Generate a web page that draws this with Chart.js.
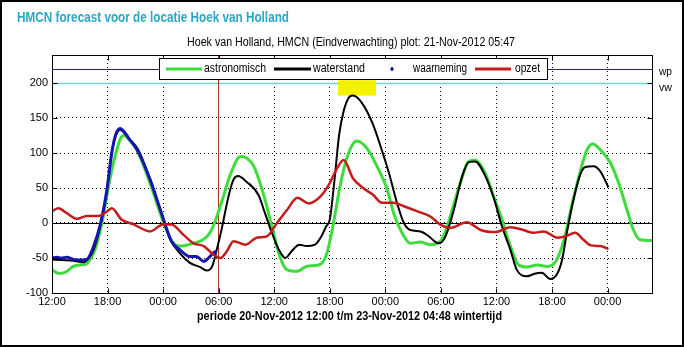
<!DOCTYPE html>
<html>
<head>
<meta charset="utf-8">
<title>HMCN forecast Hoek van Holland</title>
<script src="https://cdn.jsdelivr.net/npm/chart.js@4.4.0/dist/chart.umd.min.js"></script>
<style>
    html, body { margin: 0; padding: 0; background: #fff; }
    #wrap { width: 680px; height: 343px; border: 2px solid #000; }
    canvas { display: block; }
</style>
</head>
<body>
<div id="wrap"><canvas id="hmcnChart" width="680" height="343"></canvas></div>
<script>
// uren sinds 20-Nov-2012 12:00, waarden in cm
const astroHours = [0, 0.7, 1.5, 2.3, 3.0, 3.75, 4.2, 4.65, 5.0, 5.4, 6.1, 6.8, 7.5, 7.8, 8.4, 9.15, 10.2, 11.3, 12.2, 13.1, 13.8, 15.3, 16.3, 16.9, 17.4, 18.3, 19.2, 20.1, 20.5, 21.0, 21.8, 22.8, 23.75, 24.6, 25.4, 26.5, 27.5, 28.8, 29.3, 29.7, 30.4, 31.1, 31.9, 32.9, 34.0, 35.1, 36.2, 36.9, 37.8, 38.7, 39.8, 40.9, 41.8, 42.5, 43.0, 44.1, 45.0, 45.7, 46.8, 47.7, 48.6, 49.5, 50.4, 51.3, 52.4, 53.5, 54.4, 55.3, 56.2, 57.1, 57.8, 58.4, 59.2, 60.3, 61.2, 62.1, 62.8, 63.5, 64.8];
const astroValues = [-67, -72, -70, -62, -60, -58, -50, -38, -22, 0, 52, 95, 123, 125, 118, 105, 71, 29, -5, -29, -33, -29, -24, -17, -5, 29, 67, 93, 95, 93, 81, 43, -5, -48, -67, -69, -62, -60, -55, -43, 0, 52, 95, 117, 107, 81, 48, 14, -14, -29, -27, -31, -28, -12, 9, 57, 88, 90, 71, 38, 5, -33, -60, -63, -60, -62, -55, -24, 29, 76, 105, 113, 105, 86, 57, 19, -10, -24, -25];

const waterHours = [0, 1.0, 2.3, 3.4, 4.0, 4.5, 5.2, 5.9, 6.45, 6.9, 7.35, 8.4, 9.3, 10.6, 11.7, 12.8, 13.8, 14.9, 16.0, 16.7, 17.3, 17.8, 18.3, 19.06, 19.6, 20.1, 21.0, 22.3, 23.0, 23.75, 24.5, 25.2, 25.9, 26.7, 27.5, 28.4, 29.1, 29.6, 30.0, 30.5, 31.0, 31.5, 32.0, 32.5, 33.5, 34.6, 35.5, 36.4, 37.25, 38.0, 38.7, 39.8, 40.7, 41.4, 41.8, 42.5, 43.4, 44.3, 45.0, 45.7, 46.8, 47.7, 48.6, 49.5, 50.2, 51.3, 52.2, 52.9, 53.8, 54.5, 55.1, 55.6, 56.4, 57.1, 57.6, 58.5, 59.2, 60.1];
const waterValues = [-52, -53, -54, -56, -50, -38, -5, 43, 100, 125, 133, 119, 105, 62, 19, -24, -43, -57, -63, -68, -62, -38, -10, 38, 62, 67, 59, 40, 14, -14, -38, -50, -40, -31, -33, -31, -19, -5, 5, 60, 125, 160, 178, 182, 171, 143, 109, 71, 29, 0, -10, -12, -19, -27, -29, -19, 19, 67, 87, 88, 67, 36, -5, -38, -67, -76, -72, -71, -80, -74, -52, -14, 38, 71, 80, 81, 74, 51];

const obsHours = [0, 0.5, 1.0, 1.6, 2.3, 3.0, 3.75, 4.5, 5.2, 5.9, 6.45, 6.9, 7.35, 8.4, 9.3, 10.6, 11.7, 12.9, 13.8, 14.9, 15.6, 16.4, 16.9, 17.4, 17.8];
const obsValues = [-50, -49, -50, -49, -52, -53, -52, -33, -3, 45, 100, 127, 135, 119, 102, 62, 19, -26, -38, -48, -48, -55, -50, -43, -40];

const surgeHours = [0, 0.7, 1.6, 2.7, 3.75, 5.0, 5.8, 6.45, 7.5, 8.8, 10.6, 12.0, 12.9, 14.2, 15.3, 16.4, 17.4, 18.2, 18.9, 19.6, 20.9, 22.1, 23.2, 24.3, 25.4, 26.5, 27.7, 29.0, 30.0, 30.7, 31.5, 32.5, 33.6, 34.7, 35.6, 36.9, 38.0, 39.4, 40.9, 41.9, 43.0, 44.8, 46.3, 47.9, 49.5, 50.9, 52.0, 53.1, 54.6, 55.5, 56.5, 57.4, 58.2, 59.2, 60.1];
const surgeValues = [17, 21, 14, 6, 10, 10, 15, 21, 5, -2, -12, -2, -2, -17, -29, -33, -45, -50, -40, -26, -31, -21, -19, 0, 19, 36, 28, 38, 57, 76, 90, 64, 50, 40, 29, 29, 24, 17, 9, -2, -7, 1, -10, -13, -6, -10, -14, -12, -21, -19, -14, -24, -32, -33, -37];

const yTicks = [-100, -50, 0, 50, 100, 150, 200];
const wpLevel = 220;
const vwLevel = 200;
const plotHour = 17.95;   // rond 21-Nov-2012 06:00 (plot 05:47)

const sans = "'Liberation Sans', Arial, sans-serif";

function toPoints(hours, values) {
    return hours.map(function(h, i) { return { x: h, y: values[i] }; });
}

// tekst horizontaal smaller maken zodat hij in de gegeven breedte past (smal lettertype)
function fitText(ctx, text, left, y, width) {
    const w = ctx.measureText(text).width;
    ctx.save();
    ctx.textAlign = 'left';
    ctx.translate(left, y);
    ctx.scale(width / w, 1);
    ctx.fillText(text, 0, 0);
    ctx.restore();
}

// piek van de waterstand, voor het gele kader
let peakIdx = 0;
waterValues.forEach(function(v, i) { if (v > waterValues[peakIdx]) peakIdx = i; });

const hmcnExtras = {
    id: 'hmcnExtras',
    beforeDatasetsDraw(chart) {
        const ctx = chart.ctx;
        const a = chart.chartArea;
        const x = chart.scales.x, y = chart.scales.y;
        ctx.save();
        // stippellijn van 06:00 wegpoetsen onder de plottijd-lijn
        let xn = Math.round(x.getPixelForValue(plotHour)) + 0.5;
        ctx.fillStyle = '#fff';
        ctx.fillRect(xn - 1.5, a.top + 1, 3, a.bottom - a.top - 2);
        // nullijn
        ctx.strokeStyle = '#000';
        ctx.lineWidth = 1;
        let y0 = Math.round(y.getPixelForValue(0)) + 0.5;
        ctx.beginPath(); ctx.moveTo(a.left, y0); ctx.lineTo(a.right, y0); ctx.stroke();
        // wp en vw
        let yw = Math.round(y.getPixelForValue(wpLevel)) + 0.5;
        ctx.strokeStyle = '#23237a';
        ctx.beginPath(); ctx.moveTo(a.left, yw); ctx.lineTo(a.right, yw); ctx.stroke();
        let yv = Math.round(y.getPixelForValue(vwLevel)) + 0.5;
        ctx.strokeStyle = '#6fd3dc';
        ctx.lineWidth = 1.5;
        ctx.beginPath(); ctx.moveTo(a.left, yv); ctx.lineTo(a.right, yv); ctx.stroke();
        // geel kader boven de piek
        const ph = waterHours[peakIdx];
        const bx1 = x.getPixelForValue(ph - 1.6), bx2 = x.getPixelForValue(ph + 2.5);
        const by1 = y.getPixelForValue(vwLevel + 4), by2 = y.getPixelForValue(waterValues[peakIdx]);
        ctx.fillStyle = '#f5f200';
        ctx.fillRect(bx1, by1, bx2 - bx1, by2 - by1);
        // plottijd
        ctx.strokeStyle = '#a8342c';
        ctx.lineWidth = 1;
        ctx.beginPath(); ctx.moveTo(xn, a.top); ctx.lineTo(xn, a.bottom); ctx.stroke();
        ctx.restore();
    },
    afterDatasetsDraw(chart) {
        const ctx = chart.ctx;
        const a = chart.chartArea;
        const x = chart.scales.x, y = chart.scales.y;
        ctx.save();
        // kader en ticks naar binnen
        ctx.strokeStyle = '#000';
        ctx.lineWidth = 1;
        const L = Math.round(a.left) + 0.5, R = Math.round(a.right) + 0.5;
        const T = Math.round(a.top) + 0.5, B = Math.round(a.bottom) + 0.5;
        ctx.strokeRect(L, T, R - L, B - T);
        ctx.beginPath();
        x.ticks.forEach(function(t) {
            const px = Math.round(x.getPixelForValue(t.value)) + 0.5;
            ctx.moveTo(px, B); ctx.lineTo(px, B - 5);
            ctx.moveTo(px, T); ctx.lineTo(px, T + 5);
        });
        y.ticks.forEach(function(t) {
            const py = Math.round(y.getPixelForValue(t.value)) + 0.5;
            ctx.moveTo(L, py); ctx.lineTo(L + 5, py);
            ctx.moveTo(R, py); ctx.lineTo(R - 5, py);
        });
        ctx.stroke();

        // wp / vw labels
        ctx.fillStyle = '#000';
        ctx.font = '11px ' + sans;
        ctx.textBaseline = 'middle';
        ctx.textAlign = 'left';
        fitText(ctx, 'wp', a.right + 7, y.getPixelForValue(wpLevel) + 3, 13);
        fitText(ctx, 'vw', a.right + 7, y.getPixelForValue(vwLevel) + 5, 13);

        // legenda
        const lx = 157.5, ly = 56.5, lw = 388, lh = 21;
        ctx.fillStyle = '#fff';
        ctx.fillRect(lx, ly, lw, lh);
        ctx.strokeStyle = '#000';
        ctx.strokeRect(lx, ly, lw, lh);
        const cy = ly + lh / 2;
        ctx.font = '12px ' + sans;
        ctx.lineWidth = 3;
        ctx.strokeStyle = '#3ddc3d';
        ctx.beginPath(); ctx.moveTo(164, cy); ctx.lineTo(200, cy); ctx.stroke();
        ctx.fillStyle = '#000';
        fitText(ctx, 'astronomisch', 202, cy, 62);
        ctx.strokeStyle = '#000';
        ctx.beginPath(); ctx.moveTo(272, cy); ctx.lineTo(309, cy); ctx.stroke();
        fitText(ctx, 'waterstand', 311, cy, 52);
        ctx.fillStyle = '#1515b0';
        ctx.beginPath();
        ctx.moveTo(390, cy - 2.5); ctx.lineTo(392, cy); ctx.lineTo(390, cy + 2.5); ctx.lineTo(388, cy);
        ctx.closePath(); ctx.fill();
        ctx.fillStyle = '#000';
        fitText(ctx, 'waarneming', 411, cy, 54);
        ctx.strokeStyle = '#c41c1c';
        ctx.beginPath(); ctx.moveTo(473, cy); ctx.lineTo(509, cy); ctx.stroke();
        fitText(ctx, 'opzet', 513, cy, 25);

        // titels
        ctx.fillStyle = '#2aa7c6';
        ctx.font = 'bold 15px ' + sans;
        fitText(ctx, 'HMCN forecast voor de locatie Hoek van Holland', 15, 16, 272);
        ctx.fillStyle = '#000';
        ctx.font = '12px ' + sans;
        fitText(ctx, 'Hoek van Holland, HMCN (Eindverwachting) plot: 21-Nov-2012 05:47', 185, 41, 328);
        ctx.font = 'bold 12px ' + sans;
        fitText(ctx, 'periode 20-Nov-2012 12:00 t/m 23-Nov-2012 04:48 wintertijd', 195, 315, 305);
        ctx.restore();
    }
};

const ctx = document.getElementById('hmcnChart').getContext('2d');
new Chart(ctx, {
    type: 'line',
    data: {
        datasets: [
            {
                label: 'astronomisch',
                data: toPoints(astroHours, astroValues),
                borderColor: '#3ddc3d',
                borderWidth: 3,
                pointRadius: 0,
                cubicInterpolationMode: 'monotone',
                order: 4
            },
            {
                label: 'waterstand',
                data: toPoints(waterHours, waterValues),
                borderColor: '#000',
                borderWidth: 2,
                pointRadius: 0,
                cubicInterpolationMode: 'monotone',
                order: 3
            },
            {
                label: 'waarneming',
                data: toPoints(obsHours, obsValues),
                borderColor: '#1515b0',
                borderWidth: 3,
                pointRadius: 0,
                cubicInterpolationMode: 'monotone',
                order: 2
            },
            {
                label: 'opzet',
                data: toPoints(surgeHours, surgeValues),
                borderColor: '#c41c1c',
                borderWidth: 2.5,
                pointRadius: 0,
                cubicInterpolationMode: 'monotone',
                order: 1
            }
        ]
    },
    options: {
        responsive: false,
        animation: false,
        layout: { padding: { left: 0, top: 53, right: 30, bottom: 12 } },
        plugins: {
            legend: { display: false },
            tooltip: { enabled: false }
        },
        scales: {
            x: {
                type: 'linear',
                min: 0,
                max: 64.8,
                ticks: {
                    stepSize: 6,
                    includeBounds: false,
                    autoSkip: false,
                    maxRotation: 0,
                    padding: 2,
                    color: '#000',
                    font: { family: sans, size: 11 },
                    callback: function(v) {
                        return String((12 + v) % 24).padStart(2, '0') + ':00';
                    }
                },
                grid: { color: '#000', drawTicks: false, lineWidth: 1 },
                border: { display: false, dash: [1, 3] },
                afterFit: function(scale) { scale.height = 40; }
            },
            y: {
                min: -100,
                max: 240,
                afterBuildTicks: function(scale) {
                    scale.ticks = yTicks.map(function(v) { return { value: v }; });
                },
                ticks: {
                    padding: 4,
                    color: '#000',
                    font: { family: sans, size: 11 }
                },
                grid: { color: '#000', drawTicks: false, lineWidth: 1 },
                border: { display: false, dash: [1, 3] },
                afterFit: function(scale) { scale.width = 50; }
            }
        }
    },
    plugins: [hmcnExtras]
});
</script>
</body>
</html>
